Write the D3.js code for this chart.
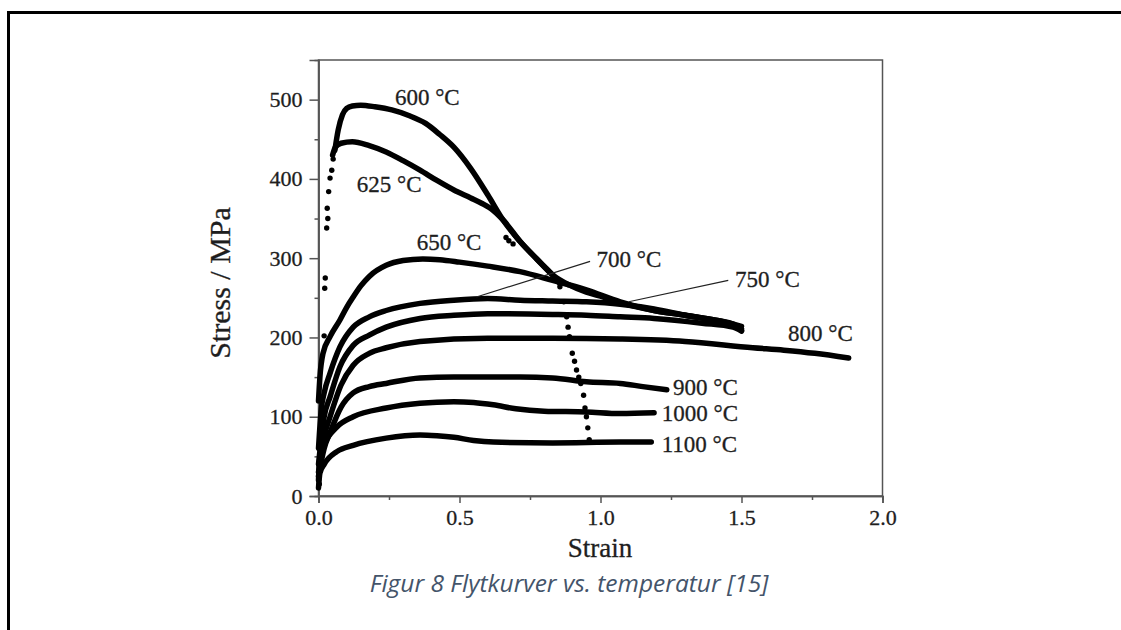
<!DOCTYPE html>
<html>
<head>
<meta charset="utf-8">
<script src="https://cdn.jsdelivr.net/npm/d3@7"></script>
<style>
  html, body { margin: 0; padding: 0; background: #fff; }
</style>
</head>
<body>
<div id="chart"></div>
<script>
// strain / stress readings for each temperature, [strain, MPa]
var c600 = [[0.058,436],[0.07,462],[0.085,481],[0.1,489],[0.12,492],[0.15,493],[0.2,491],[0.26,487],[0.32,480],[0.38,470],[0.43,456],[0.48,440],[0.54,413],[0.6,380],[0.655,348],[0.715,321],[0.774,299],[0.83,279],[0.89,266],[0.95,257],[1.01,251],[1.07,244],[1.19,234],[1.3,228],[1.42,221],[1.47,217],[1.5,209]];
var c625 = [[0.05,430],[0.06,440],[0.08,445],[0.12,447],[0.18,442],[0.24,434],[0.30,423],[0.36,411],[0.42,398],[0.48,386],[0.54,376],[0.58,369],[0.62,360],[0.66,346],[0.715,321],[0.774,299],[0.83,279],[0.856,268]];
var c650 = [[0.0,120],[0.005,150],[0.016,180],[0.041,201],[0.076,222],[0.1,238],[0.123,251],[0.15,265],[0.18,277],[0.24,291],[0.3,297],[0.37,299],[0.43,298],[0.5,295],[0.6,290],[0.715,283],[0.83,272],[0.95,260],[1.07,245],[1.19,234],[1.3,228],[1.42,221],[1.5,214]];
var c700 = [[0.0,60],[0.01,110],[0.02,130],[0.041,155],[0.076,188],[0.123,213],[0.18,226],[0.24,234],[0.36,243],[0.48,247],[0.6,249],[0.715,247],[0.83,246],[0.95,245],[1.07,242],[1.19,236],[1.3,228],[1.42,220],[1.5,211]];
var c750 = [[0.0,40],[0.02,100],[0.041,125],[0.076,163],[0.123,190],[0.18,203],[0.24,213],[0.36,224],[0.48,228],[0.6,230],[0.83,229],[0.95,228],[1.07,226],[1.19,224],[1.36,218],[1.47,213],[1.5,208]];
var c800 = [[0.0,30],[0.02,75],[0.041,100],[0.08,140],[0.123,165],[0.18,180],[0.24,187],[0.36,195],[0.6,199],[0.83,199],[1.07,198],[1.3,195],[1.54,187],[1.65,184],[1.76,180],[1.88,174]];
var c900 = [[0.0,25],[0.02,60],[0.041,80],[0.08,112],[0.123,130],[0.18,138],[0.24,142],[0.36,149],[0.48,150],[0.6,150],[0.715,150],[0.83,149],[0.95,144],[1.07,142],[1.15,138],[1.235,134]];
var c1000 = [[0.0,20],[0.005,50],[0.02,65],[0.065,87],[0.123,100],[0.24,111],[0.36,117],[0.48,119],[0.55,118],[0.62,115],[0.7,110],[0.8,107],[0.95,106],[1.07,104],[1.19,105]];
var c1100 = [[0.0,10],[0.005,29],[0.02,40],[0.065,56],[0.123,64],[0.24,73],[0.36,77],[0.42,76],[0.48,74],[0.55,70],[0.62,68],[0.83,67],[1.07,68],[1.18,68]];

// loose points: 600 °C loading dots and 625 °C fracture drop
var riseDots = [[0.003,15],[0.005,60],[0.02,202],[0.022,262],[0.024,275],[0.029,338],[0.033,350],[0.031,363],[0.036,384],[0.041,401],[0.047,411],[0.052,425]];
var dropDots = [[0.665,326],[0.675,322],[0.69,318],[0.856,264],[0.87,245],[0.88,226],[0.885,213],[0.89,201],[0.9,180],[0.908,170],[0.915,159],[0.923,150],[0.93,142],[0.94,127],[0.945,111],[0.95,100],[0.955,86],[0.96,71]];

var curves = [c600, c625, c650, c700, c750, c800, c900, c1000, c1100];

// temperature labels: text, strain, stress at baseline start
var labelText = ["600 °C","625 °C","650 °C","700 °C","750 °C","800 °C","900 °C","1000 °C","1100 °C"];
var labelPos = [[0.271,493],[0.136,384],[0.348,310],[0.986,289],[1.477,264],[1.665,195],[1.257,127],[1.217,94],[1.217,56]];

// leader lines for 700 and 750
var leaders = [[[0.963,296],[0.56,251]], [[1.453,272],[1.1,245]]];

var xTicks = [0, 0.5, 1.0, 1.5, 2.0];
var xMinor = [0.25, 0.75, 1.25, 1.75];
var yTicks = [0, 100, 200, 300, 400, 500];
var yMinor = [50, 150, 250, 350, 450];

var width = 1121, height = 630;
var serif = "'Liberation Serif', 'DejaVu Serif', serif";
var textColor = "#1e1e1e";

var svg = d3.select("#chart").append("svg")
    .attr("width", width)
    .attr("height", height);

// page frame (top and left rule)
svg.append("line").attr("x1", 8).attr("x2", width).attr("y1", 12.5).attr("y2", 12.5)
    .attr("stroke", "#000").attr("stroke-width", 3);
svg.append("line").attr("x1", 8.5).attr("x2", 8.5).attr("y1", 11).attr("y2", height)
    .attr("stroke", "#000").attr("stroke-width", 3);

var x = d3.scaleLinear().domain([0, 2]).range([318.5, 882.5]);
var y = d3.scaleLinear().domain([0, 550]).range([496, 60]);

var axisColor = "#555";

// plot box
svg.append("rect")
    .attr("x", x(0)).attr("y", y(550))
    .attr("width", x(2) - x(0)).attr("height", y(0) - y(550))
    .attr("fill", "none").attr("stroke", axisColor).attr("stroke-width", 1.5);

// axes
var xAxis = svg.append("g")
    .attr("transform", "translate(0," + y(0) + ")")
    .call(d3.axisBottom(x).tickValues(xTicks).tickFormat(d3.format(".1f")).tickSize(7).tickPadding(6));
var xAxisMinor = svg.append("g")
    .attr("transform", "translate(0," + y(0) + ")")
    .call(d3.axisBottom(x).tickValues(xMinor).tickFormat("").tickSize(4));
var yAxis = svg.append("g")
    .attr("transform", "translate(" + x(0) + ",0)")
    .call(d3.axisLeft(y).tickValues(yTicks).tickSize(9).tickPadding(7));
var yAxisMinor = svg.append("g")
    .attr("transform", "translate(" + x(0) + ",0)")
    .call(d3.axisLeft(y).tickValues(yMinor).tickFormat("").tickSize(4));

[xAxis, xAxisMinor, yAxis, yAxisMinor].forEach(function(g) {
    g.select(".domain").attr("stroke", axisColor).attr("stroke-width", 1.5);
    g.selectAll(".tick line").attr("stroke", axisColor).attr("stroke-width", 1.5);
    g.selectAll("text")
        .attr("font-family", serif)
        .attr("font-size", "22px")
        .attr("fill", textColor)
        .attr("stroke", textColor)
        .attr("stroke-width", 0.3);
});

// axis titles
svg.append("text")
    .attr("x", 600)
    .attr("y", 557)
    .attr("text-anchor", "middle")
    .attr("font-family", serif)
    .attr("font-size", "27px")
    .attr("fill", textColor)
    .attr("stroke", textColor)
    .attr("stroke-width", 0.3)
    .text("Strain");

svg.append("text")
    .attr("transform", "translate(230,283) rotate(-90)")
    .attr("text-anchor", "middle")
    .attr("font-family", serif)
    .attr("font-size", "30px")
    .attr("fill", textColor)
    .attr("stroke", textColor)
    .attr("stroke-width", 0.3)
    .text("Stress / MPa");

// flow curves
var line = d3.line()
    .x(function(d) { return x(d[0]); })
    .y(function(d) { return y(d[1]); })
    .curve(d3.curveMonotoneX);

svg.selectAll("path.curve")
    .data(curves)
    .enter()
    .append("path")
    .attr("class", "curve")
    .attr("d", line)
    .attr("fill", "none")
    .attr("stroke", "#000")
    .attr("stroke-width", 5.5)
    .attr("stroke-linecap", "round")
    .attr("stroke-linejoin", "round");

svg.selectAll("circle.dot")
    .data(riseDots.concat(dropDots))
    .enter()
    .append("circle")
    .attr("class", "dot")
    .attr("cx", function(d) { return x(d[0]); })
    .attr("cy", function(d) { return y(d[1]); })
    .attr("r", 2.7)
    .attr("fill", "#000");

// leader lines
svg.selectAll("line.leader")
    .data(leaders)
    .enter()
    .append("line")
    .attr("class", "leader")
    .attr("x1", function(d) { return x(d[0][0]); })
    .attr("y1", function(d) { return y(d[0][1]); })
    .attr("x2", function(d) { return x(d[1][0]); })
    .attr("y2", function(d) { return y(d[1][1]); })
    .attr("stroke", "#222")
    .attr("stroke-width", 1.2);

// temperature labels
svg.selectAll("text.temp")
    .data(labelText)
    .enter()
    .append("text")
    .attr("class", "temp")
    .attr("x", function(d, i) { return x(labelPos[i][0]); })
    .attr("y", function(d, i) { return y(labelPos[i][1]); })
    .attr("font-family", serif)
    .attr("font-size", "23px")
    .attr("fill", textColor)
    .attr("stroke", textColor)
    .attr("stroke-width", 0.3)
    .text(function(d) { return d; });

// caption
svg.append("text")
    .attr("x", 569)
    .attr("y", 592)
    .attr("text-anchor", "middle")
    .attr("font-family", "'Open Sans', sans-serif")
    .attr("font-style", "italic")
    .attr("font-size", "24.5px")
    .attr("fill", "#44546A")
    .text("Figur 8 Flytkurver vs. temperatur [15]");
</script>
</body>
</html>
